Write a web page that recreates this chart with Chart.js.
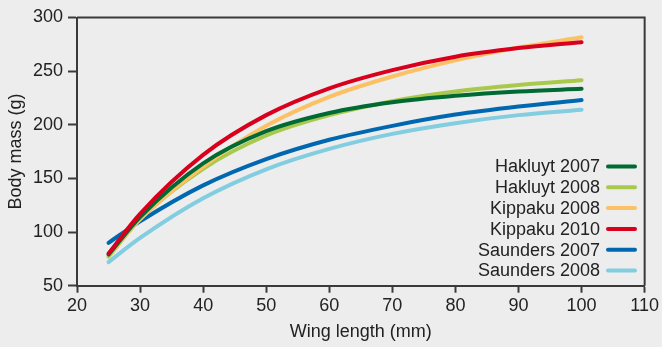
<!DOCTYPE html>
<html>
<head>
<meta charset="utf-8">
<script src="https://cdn.jsdelivr.net/npm/chart.js@4/dist/chart.umd.min.js"></script>
<style>
  html, body { margin: 0; padding: 0; background: #ecedec; }
  #wrap { width: 662px; height: 347px; position: relative; }
  canvas { display: block; }
</style>
</head>
<body>
<div id="wrap"><canvas id="c" width="662" height="347"></canvas></div>
<script>
const wingLength = [25, 30, 40, 50, 60, 70, 80, 90, 100];
const seriesNames = ["Hakluyt 2007", "Hakluyt 2008", "Kippaku 2008", "Kippaku 2010", "Saunders 2007", "Saunders 2008"];
const hakluyt2007  = [79, 114, 164, 194, 211, 221, 227, 231, 233.5];
const hakluyt2008  = [77, 112, 159, 190, 209, 222, 231, 237, 241.5];
const kippaku2008  = [78, 112, 161, 199, 226, 245, 260, 272, 281.5];
const kippaku2010  = [80, 117, 172, 209, 234, 251, 263.5, 271.5, 277];
const saunders2007 = [90, 110, 143.5, 168, 186, 199, 209.5, 217, 223];
const saunders2008 = [72, 94.5, 131.5, 158.5, 177.5, 191.5, 201.5, 209, 214];
const xTicks = [20, 30, 40, 50, 60, 70, 80, 90, 100, 110];
const yTicks = [50, 100, 150, 200, 250, 300];

const seriesValues = [hakluyt2007, hakluyt2008, kippaku2008, kippaku2010, saunders2007, saunders2008];
const colors = ["#006a35", "#a9c94c", "#fcc165", "#d8001d", "#0068b1", "#82cde0"];
const axisColor = "#3a3a3a";
const textColor = "#222222";
const FONT = "'Liberation Sans', Arial, Helvetica, sans-serif";

// Draw order: light blue first ... red on top like the reference
const drawOrder = [5, 4, 1, 2, 0, 3];

const datasets = seriesNames.map((name, i) => ({
  label: name,
  data: wingLength.map((x, j) => ({ x: x, y: seriesValues[i][j] })),
  borderColor: colors[i],
  backgroundColor: colors[i],
  borderWidth: 4,
  pointRadius: 0,
  fill: false,
  cubicInterpolationMode: 'monotone',
  borderCapStyle: 'round',
  order: drawOrder.indexOf(i) * -1
}));

const framePlugin = {
  id: 'frame',
  afterDraw(chart) {
    const ctx = chart.ctx;
    const a = chart.chartArea;
    ctx.save();
    ctx.strokeStyle = axisColor;
    ctx.lineWidth = 2;
    ctx.beginPath();
    ctx.moveTo(a.left, a.top);
    ctx.lineTo(a.right, a.top);
    ctx.lineTo(a.right, a.bottom);
    ctx.stroke();
    ctx.restore();

    // legend: right-aligned text then a line sample
    ctx.save();
    ctx.font = "18px " + FONT;
    ctx.textAlign = "right";
    ctx.textBaseline = "middle";
    const textRight = 600;
    const lineStart = 608;
    const lineEnd = 635;
    const top = 166.5;
    const step = 20.8;
    chart.data.datasets.forEach((ds, i) => {
      const y = top + i * step;
      ctx.fillStyle = textColor;
      ctx.fillText(ds.label, textRight, y + 1);
      ctx.strokeStyle = ds.borderColor;
      ctx.lineWidth = 4;
      ctx.lineCap = "round";
      ctx.beginPath();
      ctx.moveTo(lineStart, y);
      ctx.lineTo(lineEnd, y);
      ctx.stroke();
    });
    ctx.restore();
  }
};

const bgPlugin = {
  id: 'bg',
  beforeDraw(chart) {
    const ctx = chart.ctx;
    ctx.save();
    ctx.fillStyle = "#ecedec";
    ctx.fillRect(0, 0, chart.width, chart.height);
    ctx.restore();
  }
};

new Chart(document.getElementById('c'), {
  type: 'line',
  data: { datasets: datasets },
  plugins: [bgPlugin, framePlugin],
  options: {
    responsive: false,
    animation: false,
    layout: { padding: { top: 17.5, right: 17, left: 0, bottom: 0 } },
    plugins: { legend: { display: false }, tooltip: { enabled: false } },
    scales: {
      x: {
        type: 'linear',
        min: 20, max: 110,
        afterBuildTicks(scale) { scale.ticks = xTicks.map(v => ({ value: v })); },
        afterFit(scale) { scale.height = 61.3; },
        grid: { drawOnChartArea: false, tickLength: 7, color: axisColor, tickWidth: 2 },
        border: { display: true, color: axisColor, width: 2 },
        ticks: { color: textColor, font: { size: 18, family: FONT }, padding: 3, maxRotation: 0, autoSkip: false },
        title: { display: true, text: 'Wing length (mm)', color: textColor, font: { size: 18, family: FONT }, padding: { top: 0, bottom: 4 } }
      },
      y: {
        type: 'linear',
        min: 50, max: 300,
        afterBuildTicks(scale) { scale.ticks = yTicks.map(v => ({ value: v })); },
        afterFit(scale) { scale.width = 77; },
        grid: { drawOnChartArea: false, tickLength: 9, color: axisColor, tickWidth: 2 },
        border: { display: true, color: axisColor, width: 2 },
        ticks: { color: textColor, font: { size: 18, family: FONT }, padding: 5, autoSkip: false },
        title: { display: true, text: 'Body mass (g)', color: textColor, font: { size: 18, family: FONT }, padding: { top: 5, bottom: 0 } }
      }
    }
  }
});
</script>
</body>
</html>
